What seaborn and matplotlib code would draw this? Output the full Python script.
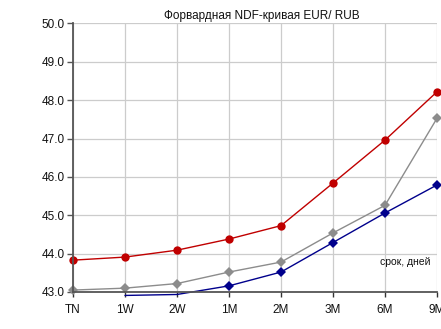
import matplotlib
matplotlib.use("Agg")
import matplotlib.pyplot as plt
import seaborn as sns
import pandas as pd
import numpy as np

# Forward NDF curve EUR/RUB by tenor
tenors = ["TN", "1W", "2W", "1M", "2M", "3M", "6M", "9M"]
curve_red = [43.83, 43.91, 44.09, 44.38, 44.73, 45.84, 46.96, 48.22]
curve_gray = [43.05, 43.10, 43.22, 43.52, 43.78, 44.54, 45.26, 47.53]
curve_blue = [np.nan, 42.91, 42.935, 43.16, 43.52, 44.29, 45.06, 45.79]

y_ticks = [43.0, 44.0, 45.0, 46.0, 47.0, 48.0, 49.0, 50.0]
y_min, y_max = 43.0, 50.0

sns.set_theme(style="whitegrid")
plt.rcParams["font.family"] = ["Liberation Sans", "DejaVu Sans"]

df = pd.concat([
    pd.DataFrame({"tenor": tenors, "rate": curve_red, "series": "red"}),
    pd.DataFrame({"tenor": tenors, "rate": curve_gray, "series": "gray"}),
    pd.DataFrame({"tenor": tenors, "rate": curve_blue, "series": "blue"}),
], ignore_index=True)

palette = {"red": "#C00000", "gray": "#8C8C8C", "blue": "#00008C"}
markers = {"red": "o", "gray": "D", "blue": "D"}

fig = plt.figure(figsize=(4.41, 3.29), dpi=100)
ax = fig.add_axes([0.1655, 0.1125, 0.8255, 0.8161])

sns.lineplot(data=df, x="tenor", y="rate", hue="series", style="series",
             palette=palette, markers=markers, dashes=False, sort=False,
             linewidth=1.0, markersize=5, markeredgewidth=0,
             legend=False, ax=ax)

# lines may run slightly past the lower axis; markers only where in range
for line in ax.lines:
    line.set_clip_on(False)
    yd = np.asarray(line.get_ydata(), dtype=float)
    line.set_markevery([i for i in range(len(yd)) if yd[i] >= y_min])
    if line.get_marker() == "o":
        line.set_markersize(6)

ax.set_xlim(0, len(tenors) - 1)
ax.set_ylim(y_min, y_max)
ax.set_yticks(y_ticks)
ax.set_yticklabels([f"{v:.1f}" for v in y_ticks])
ax.set_xlabel("")
ax.set_ylabel("")

ax.grid(True, color="#CCCCCC", linewidth=0.9)
for side in ("top", "right"):
    ax.spines[side].set_visible(False)
ax.spines["left"].set_color("#555555")
ax.spines["left"].set_linewidth(1.3)
ax.spines["bottom"].set_color("#555555")
ax.spines["bottom"].set_linewidth(1.3)

ax.tick_params(axis="y", which="major", direction="out", length=4, width=1,
               color="#555555", labelsize=8.5, pad=2, left=True)
ax.tick_params(axis="x", which="major", direction="out", length=3.5, width=1,
               color="#333333", labelsize=8.5, pad=5.5, bottom=True)
for lbl in ax.get_xticklabels() + ax.get_yticklabels():
    lbl.set_color("#111111")

ax.set_title("Форвардная NDF-кривая EUR/ RUB", fontsize=8.5, pad=3,
             color="#111111", x=0.52)
ax.text(0.912, 0.112, "срок, дней", transform=ax.transAxes, fontsize=7.5,
        color="#111111", ha="center", va="center")

fig.savefig("out.png", dpi=100)
